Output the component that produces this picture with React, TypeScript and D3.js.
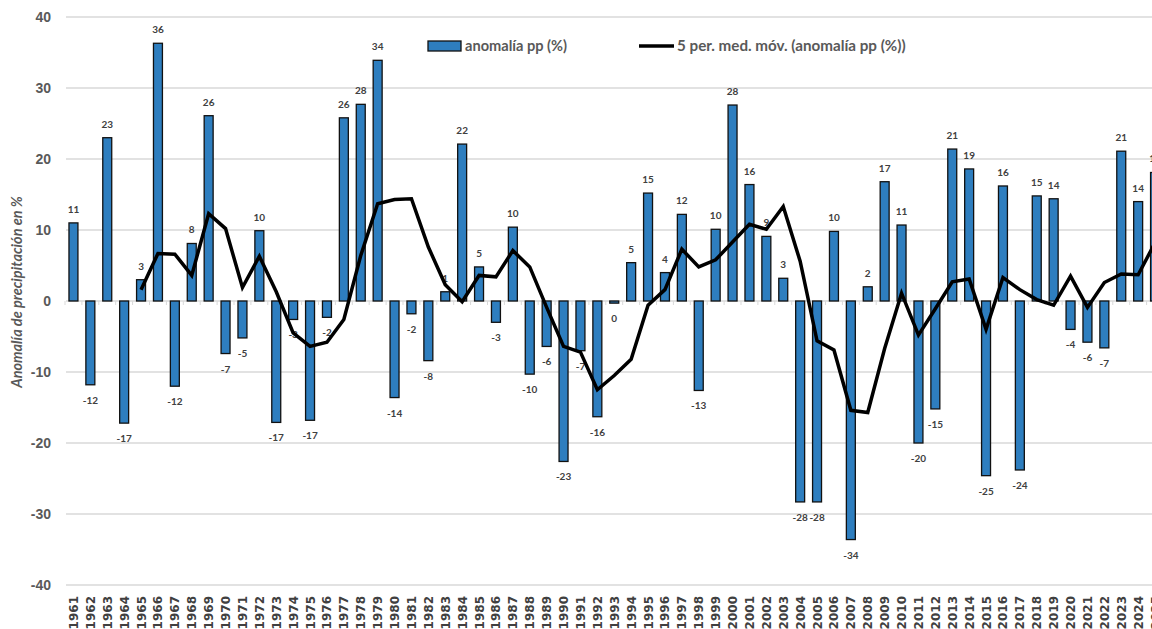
import React from "react";
import * as d3 from "d3";

const years: string[] = d3.range(1961, 2026).map(String);

const anomaly: number[] = [
  11.0, -11.8, 23.0, -17.2, 3.0, 36.3, -12.0, 8.1, 26.1, -7.4,
  -5.2, 9.9, -17.1, -2.6, -16.8, -2.3, 25.8, 27.7, 33.9, -13.6,
  -1.8, -8.4, 1.3, 22.1, 4.8, -3.0, 10.4, -10.3, -6.4, -22.6,
  -7.0, -16.3, -0.3, 5.4, 15.2, 4.0, 12.2, -12.6, 10.1, 27.6,
  16.4, 9.1, 3.2, -28.3, -28.3, 9.8, -33.6, 2.0, 16.8, 10.7,
  -20.0, -15.2, 21.4, 18.6, -24.6, 16.2, -23.8, 14.8, 14.4, -4.0,
  -5.8, -6.6, 21.1, 14.0, 18.1,
];

// 5-period moving average line (starts at 1965)
const movingAvg: (number | null)[] = [
  null, null, null, null, 1.6, 6.7, 6.6, 3.6, 12.3, 10.2,
  1.9, 6.3, 1.3, -4.5, -6.4, -5.8, -2.6, 6.4, 13.7, 14.3,
  14.4, 7.6, 2.3, -0.1, 3.6, 3.4, 7.1, 4.8, -0.9, -6.4,
  -7.2, -12.5, -10.5, -8.2, -0.6, 1.6, 7.3, 4.8, 5.8, 8.3,
  10.8, 10.1, 13.3, 5.6, -5.6, -6.9, -15.4, -15.7, -6.7, 1.1,
  -4.8, -1.1, 2.7, 3.1, -4.0, 3.3, 1.6, 0.2, -0.6, 3.5,
  -0.9, 2.6, 3.8, 3.7, 8.2,
];

const yTicks: number[] = [40, 30, 20, 10, 0, -10, -20, -30, -40];

const seriesBarName = "anomalía pp (%)";
const seriesLineName = "5 per. med. móv. (anomalía pp (%))";
const yTitle = "Anomalía de precipitación en %";

export default function App() {
  const W = 1152;
  const H = 629;
  const plotLeft = 65;
  const step = 16.9;
  const x = d3
    .scaleBand<string>()
    .domain(years)
    .range([plotLeft, plotLeft + step * years.length])
    .paddingInner(0.47)
    .paddingOuter(0.235);
  const xc = (y: string) => (x(y) as number) + x.bandwidth() / 2;
  const y = d3.scaleLinear().domain([-40, 40]).range([585, 17]);

  const line = d3
    .line<number | null>()
    .defined((d) => d !== null)
    .x((_, i) => xc(years[i]))
    .y((d) => y(d as number));

  const grey = "#595959";
  const labelFont = "Lato, 'Open Sans', sans-serif";

  return (
    <svg
      width={W}
      height={H}
      style={{ position: "absolute", left: 0, top: 0, background: "#fff" }}
    >
      {/* gridlines */}
      {yTicks.map((t) => (
        <line
          key={"g" + t}
          x1={66}
          x2={W}
          y1={y(t)}
          y2={y(t)}
          stroke="#d9d9d9"
          strokeWidth={1.5}
        />
      ))}
      {/* category ticks at zero line */}
      {years.map((yr) => (
        <line
          key={"tk" + yr}
          x1={(x(yr) as number) - (x.step() - x.bandwidth()) / 2}
          x2={(x(yr) as number) - (x.step() - x.bandwidth()) / 2}
          y1={y(0)}
          y2={y(0) + 4}
          stroke="#d9d9d9"
          strokeWidth={1}
        />
      ))}
      {/* y tick labels */}
      {yTicks.map((t) => (
        <text
          key={"yl" + t}
          x={51}
          y={y(t) + 5}
          textAnchor="end"
          fontFamily="'Liberation Sans', Arial, sans-serif"
          fontWeight="bold"
          fontSize={14}
          fill={grey}
        >
          {t}
        </text>
      ))}
      {/* y title */}
      <text
        transform={`translate(22,${292}) rotate(-90)`}
        textAnchor="middle"
        fontFamily={labelFont}
        fontStyle="italic"
        fontWeight="bold"
        fontSize={14.5}
        fill={grey}
      >
        {yTitle}
      </text>
      {/* bars */}
      {anomaly.map((v, i) => (
        <rect
          key={"b" + i}
          x={x(years[i])}
          width={x.bandwidth()}
          y={Math.min(y(v), y(0))}
          height={Math.abs(y(v) - y(0))}
          fill="#2E7EBF"
          stroke="#111"
          strokeWidth={1.3}
        />
      ))}
      {/* data labels */}
      {anomaly.map((v, i) => (
        <text
          key={"dl" + i}
          x={xc(years[i])}
          y={v >= 0 ? y(v) - 10 : y(v) + 19}
          textAnchor="middle"
          fontFamily={labelFont}
          fontWeight="bold"
          fontSize={10}
          fill="#404040"
        >
          {String(Math.round(v) === 0 ? 0 : Math.round(v))}
        </text>
      ))}
      {/* moving average */}
      <path
        d={line(movingAvg) || ""}
        fill="none"
        stroke="#000"
        strokeWidth={3.5}
        strokeLinejoin="miter"
      />
      {/* x labels */}
      {years.map((yr) => (
        <text
          key={"xl" + yr}
          transform={`translate(${xc(yr) + 4.5},596) rotate(-90)`}
          textAnchor="end"
          fontFamily="'DejaVu Sans', sans-serif"
          fontWeight="bold"
          fontSize={12}
          fill="#404040"
        >
          {yr}
        </text>
      ))}
      {/* legend */}
      <rect x={428} y={41} width={33} height={10} fill="#2E7EBF" stroke="#111" strokeWidth={1.3} />
      <text x={465} y={51} fontFamily={labelFont} fontWeight="bold" fontSize={14.6} fill={grey}>
        {seriesBarName}
      </text>
      <line x1={639} x2={674} y1={46} y2={46} stroke="#000" strokeWidth={3.5} />
      <text x={677} y={51} fontFamily={labelFont} fontWeight="bold" fontSize={15.2} fill={grey}>
        {seriesLineName}
      </text>
    </svg>
  );
}
